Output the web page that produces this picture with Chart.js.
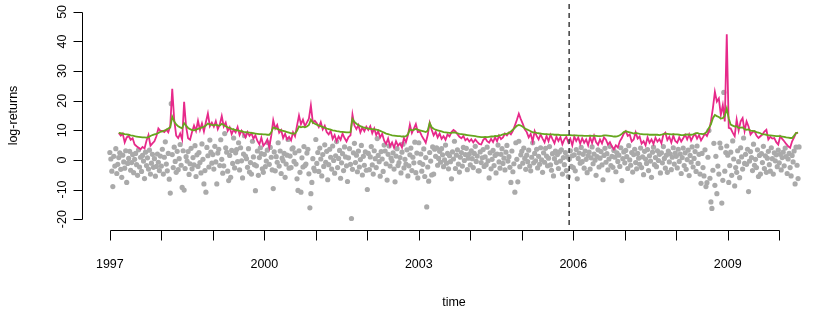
<!DOCTYPE html>
<html>
<head>
<meta charset="utf-8">
<script src="https://cdn.jsdelivr.net/npm/chart.js@4/dist/chart.umd.min.js"></script>
<style>
  body { margin: 0; background: #fff; }
  canvas { display: block; }
</style>
</head>
<body>
<canvas id="chart" width="830" height="312"></canvas>
<script>
// weekly observations, first one at the start of 1997
const startYear = 1997;
const weekStep = 1 / 52;

// the two forecast lines start a few weeks in and are kept every second week
const lineStartWeek = 9;
const lineStepWeeks = 2;

const weeklyReturns = [
    // 1997
    2.5, 0.3, -3.8, -9.0, 1.2, -2.1, 3.8, -4.6, -1.5, 0.8, 2.4, -3.2, -5.9, 1.6, -0.7, -2.8, 3.1, -7.6, -1.2, 0.5,
    2.9, -3.5, -0.9, 1.8, -4.3, 0.2, 2.2, -1.6, -5.2, 3.4, -2.4, 0.9, -3.9, 1.5, -0.4, -6.3, 2.6, -1.9, 0.7, -3.1,
    3.3, -4.8, -1.1, 1.9, -2.5, 0.4, -5.5, -2.2, 2.0, -0.8, -3.6, 1.3,
    // 1998
    -2.1, 3.6, -4.8, 0.9, 6.1, -1.4, -3.7, 2.2, -6.5, -11.2, 19.0, 1.8, -2.6, 4.3, -0.5, -4.2, 2.9, -3.3, 0.4, 5.2,
    -1.8, -9.3, 3.1, -10.2, -2.9, 1.1, -0.4, 2.8, -4.9, -1.3, 3.9, -3.0, 0.8, -1.7, 4.8, -5.6, 1.7, -2.2, 2.5, -0.9,
    -4.4, 5.4, 0.2, -8.1, -3.6, -10.9, 4.2, 1.4, -2.4, 6.7, 2.6, -1.1,
    // 1999
    1.8, -3.1, 4.6, -0.7, -8.1, 2.3, 3.6, -1.9, 6.8, 0.2, -4.5, -2.0, 8.9, 4.1, 2.6, -3.8, -7.0, 1.5, -5.9, 3.2,
    -1.2, 7.4, -2.7, 2.4, 3.5, -0.6, 5.8, -3.4, 4.1, -0.3, -6.1, 2.0, 8.2, 1.3, 0.4, -2.5, 3.8, -4.1, -0.9, -4.8,
    6.3, 1.0, -1.6, -10.4, -2.0, 3.0, -5.2, 0.8, 4.1, 2.1, -3.0, -4.2,
    // 2000
    1.9, -2.3, -0.4, 3.3, 5.8, -1.5, 4.2, 0.9, -3.4, -9.7, 2.7, -3.7, 1.1, -0.8, 5.8, -2.1, 3.0, -4.6, 0.6, -0.3,
    2.2, -5.9, -1.4, 1.6, 6.9, -2.8, 1.3, -2.6, 3.7, 4.1, -0.5, 2.4, -1.4, -6.4, -10.3, 3.1, -4.2, -10.9, 0.7, -2.4,
    4.5, -1.9, -1.4, 2.3, 3.6, -4.7, -16.2, -11.4, -7.6, 0.4, -2.8, -3.7,
    // 2001
    6.9, -1.2, 2.5, -3.9, 4.0, 0.3, -5.4, 1.8, -2.2, 5.1, -0.8, 2.9, -6.7, -1.6, 3.6, 0.9, -3.1, 4.7, -0.2, -4.5,
    1.4, 6.2, -2.6, 0.5, 3.2, -6.2, -1.0, 2.1, -3.6, 4.4, 1.0, -2.0, -7.3, 0.7, 3.8, -1.5, -19.8, -3.2, 2.4, 5.6,
    -0.9, 1.6, -4.0, 3.0, -2.4, 0.1, 4.9, -5.1, 1.2, -1.8, 2.7, -3.5,
    // 2002
    -10.0, 2.2, -3.3, 1.0, 4.5, -1.7, -4.8, 3.1, 0.4, -2.6, 7.2, 1.5, -0.6, -5.5, 2.8, 0.3, -3.9, 5.0, 3.0, -1.3,
    -6.8, 1.9, 4.7, -2.1, 0.6, -0.3, 2.4, -3.1, -7.4, 1.3, 3.8, -1.9, -0.9, 0.8, -4.4, 2.6, 5.3, -2.7, 0.2, -1.4,
    3.4, -5.4, -2.0, 1.7, 4.0, -3.6, 0.9, -1.0, 6.0, -4.3, 2.3, -6.1,
    // 2003
    5.8, -0.9, 2.0, -3.8, -1.5, 3.7, -5.6, 0.8, -15.9, -2.4, -7.2, 2.5, -0.4, -5.1, 4.4, -4.8, 3.6, 1.2, 4.1, -1.8,
    0.5, 2.9, -0.8, 3.8, 1.7, -2.3, 0.0, 5.0, -1.1, 2.2, -3.0, 1.4, -0.6, -6.4, 2.7, 0.3, 6.3, -2.9, 1.6, 3.4,
    -1.4, -4.1, 0.9, 2.5, -2.1, 4.2, -0.2, 1.8, 3.9, -3.3, 0.6, 2.0,
    // 2004
    -1.7, 3.1, 0.4, -2.6, 2.2, 4.6, -0.5, 1.3, -3.7, -3.7, 2.7, -0.9, 0.7, 3.5, -2.2, 1.0, -1.6, 4.3, -0.3, -6.1,
    2.4, -3.0, 0.2, 3.2, -1.9, 1.5, -4.4, 2.0, 5.0, -0.7, -2.8, 1.9, 3.8, -1.2, 0.6, -3.4, 2.6, 4.9, -0.4, 1.1,
    -2.5, -7.6, 3.0, -4.0, -1.3, -10.9, 5.8, 0.2, -7.4, 6.3, -2.3, 1.7,
    // 2005
    2.9, -1.1, 4.0, 0.5, -3.2, 1.6, -0.6, 3.3, -2.1, -3.7, 0.9, 5.8, -1.0, 2.2, -0.3, 3.6, -2.7, 1.2, -1.5, 4.1,
    0.0, -4.2, 2.4, -0.8, 3.9, 1.3, -2.0, 0.6, 4.5, -1.7, -3.5, 2.1, -5.4, 0.4, 3.0, -0.9, 1.8, -2.9, 2.7, -0.4,
    3.4, -4.8, 0.8, -1.6, 2.5, -3.6, 1.0, -5.6, 0.3, 3.1, -2.2, 1.4,
    // 2006
    -2.6, 1.7, -3.7, 3.5, -6.4, 0.5, 2.3, -1.1, 4.2, -0.6, 1.9, -2.8, 3.0, 0.2, -4.3, 1.4, 2.6, -3.1, 0.7, 4.4,
    -1.3, 2.0, -0.1, -5.2, 1.1, 3.4, -2.4, 0.6, 2.8, -1.7, -6.7, 1.5, 3.9, -0.8, 2.1, -3.4, 0.3, 4.6, -1.9, 1.2,
    -2.5, 3.2, 0.9, -4.0, 2.4, -0.5, 1.6, -2.2, 4.1, -7.0, 0.4, 2.7,
    // 2007
    -1.0, 3.2, 1.1, -2.9, 4.8, 0.0, -1.8, 2.5, -4.1, 1.8, 3.6, -0.9, -3.0, 2.2, 0.6, -1.5, 4.0, -2.6, 1.0, -5.0,
    2.9, 0.3, -1.2, 3.5, -3.6, 1.4, -0.4, -5.9, 2.6, 4.3, -1.6, 0.8, -2.3, 3.1, -0.2, 1.9, -4.4, 2.4, -1.0, 4.5,
    0.5, -2.8, 1.6, -4.2, 3.0, -0.7, 2.0, -3.3, 0.9, 4.1, -1.4, 2.3,
    // 2008
    1.2, -2.7, 3.6, -0.5, 2.0, -4.6, 0.8, 4.0, -1.9, 2.4, -3.2, 0.1, 3.3, -5.3, 1.5, -0.8, 4.4, -2.4, 0.5, 2.8,
    -3.9, 4.7, -1.2, 1.9, -4.8, -7.9, 2.2, -2.6, -5.4, 3.4, -9.0, -7.7, 0.9, 9.9, -6.2, -14.2, -16.4, -3.5, 5.6, -8.6,
    1.2, -11.4, -2.1, -4.8, 5.7, 4.1, -14.6, -6.9, 22.8, -3.8, 2.5, 4.7,
    // 2009
    1.6, -7.6, -1.9, 2.6, -5.2, 6.4, 0.3, -8.8, -2.6, -4.2, 3.1, -0.6, -6.0, 4.1, 1.0, -3.1, 7.4, -1.2, 1.9, -1.5,
    3.6, -10.7, -0.4, 2.8, 0.8, -3.6, 5.3, -1.8, 0.2, -2.6, 3.4, -5.6, 1.5, -4.8, 2.1, -0.9, 4.6, -2.9, 1.4, -4.2,
    0.6, 2.9, -1.6, -3.8, 4.1, 0.4, -4.8, 2.4, -0.3, 1.7, -2.3, 3.3,
    // 2010
    -1.0, 1.9, -3.4, 0.8, 2.6, -2.0, 4.0, 1.1, -4.6, 0.3, 2.2, -2.6, -5.4, 1.5, -0.7, 3.0, -8.1, 4.3, -1.8, -6.3,
    4.4
];

// magenta forecast, every second week from week 9
const forecastPink = [
    9.1, 8.2, 8.9, 5.9, 7.6, 8.1, 6.8, 7.3, 5.2, 4.6, 4.1, 3.6, 4.4, 3.9, 6.5, 8.4, 4.8, 5.6, 6.3, 8.0, 10.6, 9.8,
    9.8, 9.4, 10.2, 9.3, 11.5, 24.0, 13.5, 8.2, 7.4, 8.9, 6.9, 19.6, 11.2, 7.3, 6.8, 9.4, 11.6, 9.8, 13.2, 10.1, 12.3, 9.6, 12.8, 15.7, 11.4, 12.6,
    11.2, 13.1, 10.4, 12.0, 14.8, 11.3, 12.6, 9.8, 11.0, 8.7, 10.2, 9.3, 11.1, 8.4, 9.9, 8.8, 7.6, 9.4, 8.1, 9.0, 7.2, 8.3, 6.4, 5.3, 7.5, 4.8,
    5.6, 6.9, 4.3, 8.2, 13.4, 10.6, 11.8, 9.2, 10.1, 7.4, 8.8, 6.9, 7.8, 6.6, 9.3, 8.0, 11.6, 15.0, 12.1, 13.6, 11.4, 12.7, 13.9, 18.4, 12.6, 13.2,
    12.4, 11.1, 12.8, 10.3, 11.5, 9.4, 8.6, 9.8, 7.1, 8.4, 6.3, 7.9, 6.8, 8.9, 7.4, 6.2, 7.7, 8.3, 15.3, 11.6, 10.4, 11.8, 9.3, 10.9, 9.7, 11.2,
    10.1, 11.4, 9.0, 10.6, 8.4, 9.7, 7.6, 8.8, 6.5, 5.4, 7.2, 4.6, 5.9, 4.1, 6.3, 4.8, 5.6, 4.2, 7.4, 6.0, 8.3, 11.9, 9.1, 10.6, 12.1, 9.4,
    9.6, 8.1, 7.0, 5.8, 8.4, 12.5, 10.2, 8.3, 9.5, 7.6, 8.9, 7.1, 8.0, 6.8, 8.6, 7.9, 9.4, 10.1, 9.6, 8.7, 7.8, 7.3, 8.1, 6.6, 7.2, 6.2,
    7.0, 5.9, 6.9, 6.1, 5.4, 5.2, 6.7, 7.4, 6.3, 5.8, 7.1, 6.0, 7.6, 6.3, 8.2, 7.0, 7.6, 8.9, 8.3, 9.2, 8.6, 9.8, 11.6, 13.5, 15.6, 13.8,
    12.2, 10.3, 9.4, 7.6, 8.8, 6.2, 9.7, 8.1, 6.9, 8.6, 7.2, 5.9, 8.1, 6.3, 8.5, 7.0, 5.6, 7.8, 6.4, 7.7, 5.3, 6.9, 7.8, 5.9, 7.2, 4.9,
    7.9, 6.4, 7.6, 5.5, 7.3, 5.8, 6.9, 4.9, 7.6, 5.7, 8.1, 6.0, 5.1, 6.9, 5.6, 7.6, 6.8, 5.2, 6.0, 4.6, 3.6, 4.9, 4.2, 6.3, 7.4, 8.9,
    9.7, 8.1, 8.6, 6.2, 6.9, 9.3, 7.2, 7.9, 5.5, 6.3, 4.9, 7.6, 5.8, 6.9, 5.4, 7.5, 6.2, 7.0, 5.6, 8.6, 9.2, 6.7, 7.8, 5.9, 8.2, 6.4,
    5.8, 7.6, 6.2, 7.3, 8.5, 6.9, 8.6, 6.5, 7.9, 8.8, 7.2, 8.4, 6.6, 7.7, 8.9, 8.1, 9.7, 13.0, 17.5, 23.0, 19.7, 20.8, 15.2, 18.5, 13.0, 42.4,
    10.8, 10.6, 9.2, 8.0, 13.6, 9.9, 13.0, 14.1, 9.7, 13.0, 11.3, 8.6, 9.4, 9.7, 8.2, 7.4, 8.0, 8.6, 9.6, 10.2, 6.9, 7.8, 7.2, 7.4, 6.0, 5.2,
    8.0, 7.1, 6.3, 5.4, 4.6, 4.1, 6.3, 7.6, 9.1, 9.1
];

// green forecast, same weeks
const forecastGreen = [
    9.1, 9.0, 8.9, 8.7, 8.6, 8.5, 8.3, 8.2, 8.0, 7.9, 7.8, 7.7, 7.6, 7.6, 7.5, 7.7, 8.1, 8.4, 8.6, 8.8, 9.1, 9.5,
    9.6, 9.9, 10.2, 10.6, 11.0, 14.6, 13.0, 12.0, 11.4, 11.0, 10.7, 12.4, 11.6, 10.8, 10.4, 10.1, 10.0, 10.2, 10.5, 10.7, 11.0, 11.2, 11.6, 12.3, 12.0, 11.8,
    11.7, 11.9, 11.7, 11.6, 12.2, 11.8, 11.4, 11.0, 10.8, 10.5, 10.3, 10.1, 10.0, 9.8, 9.7, 9.5, 9.4, 9.3, 9.2, 9.1, 9.0, 8.9, 8.8, 8.7, 8.7, 8.6,
    8.6, 8.5, 8.5, 9.3, 11.0, 10.7, 10.5, 10.2, 10.0, 9.8, 9.6, 9.4, 9.2, 9.0, 8.9, 8.9, 9.8, 11.3, 11.0, 11.2, 11.0, 11.3, 11.8, 13.6, 12.6, 12.2,
    11.9, 11.6, 11.4, 11.1, 10.9, 10.6, 10.4, 10.2, 10.0, 9.9, 9.7, 9.6, 9.5, 9.5, 9.4, 9.3, 9.3, 9.4, 13.8, 12.8, 12.2, 11.8, 11.4, 11.1, 10.9, 10.7,
    10.6, 10.5, 10.4, 10.3, 10.2, 10.1, 9.8, 9.5, 9.2, 8.9, 8.7, 8.5, 8.3, 8.2, 8.1, 8.0, 8.0, 7.9, 7.9, 8.0, 8.6, 10.3, 10.0, 10.1, 10.5, 10.2,
    10.0, 9.8, 9.6, 9.4, 9.9, 12.5, 11.0, 10.5, 10.2, 10.0, 9.8, 9.6, 9.4, 9.3, 9.2, 9.1, 9.1, 9.3, 9.2, 9.0, 8.8, 8.7, 8.6, 8.5, 8.4, 8.3,
    8.2, 8.1, 8.0, 7.9, 7.8, 7.7, 7.7, 7.8, 7.7, 7.8, 7.9, 7.9, 8.1, 8.0, 8.3, 8.4, 8.6, 8.8, 8.8, 9.2, 9.6, 10.2, 10.8, 11.5, 11.8, 11.6,
    11.2, 10.7, 10.3, 10.0, 9.7, 9.3, 9.3, 9.1, 9.0, 8.9, 8.8, 8.7, 8.7, 8.6, 8.6, 8.6, 8.5, 8.5, 8.5, 8.4, 8.4, 8.4, 8.4, 8.4, 8.4, 8.3,
    8.3, 8.3, 8.2, 8.2, 8.2, 8.1, 8.1, 8.1, 8.2, 8.1, 8.2, 8.1, 8.0, 8.0, 8.1, 8.3, 8.3, 8.2, 8.1, 8.0, 7.9, 7.9, 8.0, 8.3, 8.8, 9.4,
    9.7, 9.5, 9.3, 9.1, 8.9, 9.1, 9.0, 8.8, 8.7, 8.6, 8.6, 8.6, 8.5, 8.5, 8.5, 8.5, 8.5, 8.4, 8.5, 8.7, 8.9, 8.8, 8.7, 8.6, 8.7, 8.6,
    8.6, 8.5, 8.4, 8.4, 8.5, 8.6, 8.5, 8.5, 8.6, 8.9, 9.1, 8.9, 8.8, 8.7, 8.9, 9.6, 10.8, 12.0, 14.1, 15.2, 14.8, 14.5, 14.0, 14.1, 14.9, 17.4,
    14.0, 11.9, 11.6, 11.3, 11.4, 10.8, 10.9, 11.0, 10.4, 10.2, 10.3, 9.9, 9.8, 9.7, 9.4, 9.2, 9.0, 8.6, 8.6, 8.5, 8.3, 8.3, 8.2, 8.1, 8.0, 8.0,
    8.0, 7.9, 7.8, 7.6, 7.5, 7.4, 7.4, 8.2, 9.1, 9.2
];

const yearTicks = [1997, 1998, 1999, 2000, 2001, 2002, 2003, 2004, 2005, 2006, 2007, 2008, 2009, 2010];
const labelledYears = [1997, 2000, 2003, 2006, 2009];
const returnTicks = [-20, -10, 0, 10, 20, 30, 40, 50];
const breakDate = 2005.92;

function weekToYear(week) {
    return startYear + week * weekStep;
}

let returnPoints = weeklyReturns.map((v, i) => ({x: weekToYear(i), y: v}));
let pinkPoints = forecastPink.map((v, i) => ({x: weekToYear(lineStartWeek + i * lineStepWeeks), y: v}));
let greenPoints = forecastGreen.map((v, i) => ({x: weekToYear(lineStartWeek + i * lineStepWeeks), y: v}));

const FONT = '"Liberation Sans", Arial, Helvetica, sans-serif';

// base-R looking axes, drawn by hand from the chart's own scales
const baseAxes = {
    id: 'baseAxes',
    afterDatasetsDraw(chart) {
        const {ctx, chartArea, scales} = chart;
        const x = scales.x;
        const y = scales.y;
        ctx.save();

        // dashed marker
        let bx = x.getPixelForValue(breakDate);
        ctx.strokeStyle = '#4a4a4a';
        ctx.lineWidth = 1.6;
        ctx.setLineDash([5, 4]);
        ctx.beginPath();
        ctx.moveTo(bx, chartArea.top);
        ctx.lineTo(bx, chartArea.bottom);
        ctx.stroke();
        ctx.setLineDash([]);

        ctx.strokeStyle = '#000';
        ctx.fillStyle = '#000';
        ctx.lineWidth = 1;
        ctx.font = '12.5px ' + FONT;

        // x axis
        let axisY = Math.round(chartArea.bottom + 2.5) + 0.5;
        let x0 = Math.round(x.getPixelForValue(yearTicks[0])) + 0.5;
        let x1 = Math.round(x.getPixelForValue(yearTicks[yearTicks.length - 1])) + 0.5;
        ctx.beginPath();
        ctx.moveTo(x0, axisY);
        ctx.lineTo(x1, axisY);
        yearTicks.forEach(yr => {
            let px = Math.round(x.getPixelForValue(yr)) + 0.5;
            ctx.moveTo(px, axisY);
            ctx.lineTo(px, axisY + 10);
        });
        ctx.stroke();
        ctx.textAlign = 'center';
        ctx.textBaseline = 'middle';
        labelledYears.forEach(yr => {
            ctx.fillText(String(yr), x.getPixelForValue(yr), axisY + 34.5);
        });
        ctx.fillText('time', (chartArea.left + chartArea.right) / 2, axisY + 72.5);

        // y axis
        let axisX = Math.round(chartArea.left) + 0.5;
        let yTop = Math.round(y.getPixelForValue(returnTicks[returnTicks.length - 1])) + 0.5;
        let yBot = Math.round(y.getPixelForValue(returnTicks[0])) + 0.5;
        ctx.beginPath();
        ctx.moveTo(axisX, yTop);
        ctx.lineTo(axisX, yBot);
        returnTicks.forEach(t => {
            let py = Math.round(y.getPixelForValue(t)) + 0.5;
            ctx.moveTo(axisX, py);
            ctx.lineTo(axisX - 9, py);
        });
        ctx.stroke();
        returnTicks.forEach(t => {
            ctx.save();
            ctx.translate(axisX - 20, y.getPixelForValue(t));
            ctx.rotate(-Math.PI / 2);
            ctx.fillText(String(t), 0, 0);
            ctx.restore();
        });
        ctx.save();
        ctx.translate(14, (chartArea.top + chartArea.bottom) / 2);
        ctx.rotate(-Math.PI / 2);
        ctx.fillText('log-returns', 0, 0);
        ctx.restore();

        ctx.restore();
    }
};

let config = {
    type: 'scatter',
    data: {
        datasets: [
            {
                label: 'returns',
                data: returnPoints,
                backgroundColor: '#AAAAAA',
                borderColor: '#AAAAAA',
                borderWidth: 0,
                pointRadius: 2.6,
                order: 3,
            },
            {
                label: 'forecast 1',
                data: pinkPoints,
                showLine: true,
                borderColor: '#E7298A',
                borderWidth: 1.8,
                pointRadius: 0,
                tension: 0,
                order: 2,
            },
            {
                label: 'forecast 2',
                data: greenPoints,
                showLine: true,
                borderColor: '#66A61E',
                borderWidth: 1.8,
                pointRadius: 0,
                tension: 0,
                order: 1,
            },
        ]
    },
    options: {
        responsive: false,
        devicePixelRatio: 1,
        animation: false,
        events: [],
        layout: {padding: {left: 82, right: 0, top: 1, bottom: 85}},
        plugins: {legend: {display: false}, tooltip: {enabled: false}},
        scales: {
            x: {type: 'linear', display: false, min: 1996.459, max: 2010.908},
            y: {type: 'linear', display: false, min: -22.667, max: 52.667},
        }
    },
    plugins: [baseAxes]
};

let ctx = document.getElementById('chart').getContext('2d');
window.myChart = new Chart(ctx, config);
</script>
</body>
</html>
